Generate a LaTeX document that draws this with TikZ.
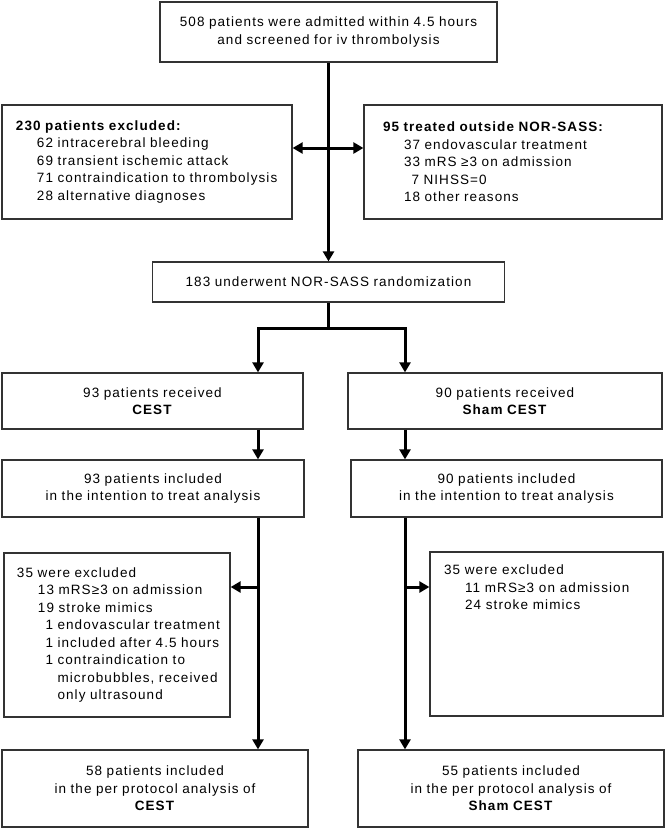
\documentclass[tikz,border=0pt]{standalone}
\usepackage{fontspec}
\setmainfont[LetterSpace=8]{Liberation Sans}
\usetikzlibrary{arrows.meta}

\newcommand{\ind}{\hspace*{21bp}}
\newcommand{\dg}{\hphantom{1}}

\tikzset{
  box/.style={draw=black!80, line width=1.3bp, inner ysep=0pt,
    font=\fontsize{13.5bp}{17.5bp}\selectfont},
  boxsize/.style 2 args={minimum width=#1, minimum height=#2},
  cbox/.style={box, align=center, inner xsep=0pt},
  lbox/.style={box, align=left, inner xsep=14bp},
  link/.style={line width=3bp},
  arr/.style={link, -{Triangle[length=10bp,width=11bp]}},
  dblarr/.style={link, {Triangle[length=10bp,width=11bp]}-{Triangle[length=10bp,width=11bp]}},
}

\begin{document}
\begin{tikzpicture}[x=1bp, y=-1bp]
  \useasboundingbox (0,0) rectangle (666,829);

  % screening
  \node[cbox, boxsize={337bp}{60bp}, text width=337bp] (top) at (328.5,32)
    {508 patients were admitted within 4.5 hours\\and screened for iv thrombolysis};
  \node[lbox, boxsize={290bp}{114bp}, text width=262bp] (exclL) at (147,162)
    {\textbf{230 patients excluded:}\\
     \ind 62 intracerebral bleeding\\
     \ind 69 transient ischemic attack\\
     \ind 71 contraindication to thrombolysis\\
     \ind 28 alternative diagnoses};
  \node[lbox, inner xsep=19bp, boxsize={298bp}{114bp}, text width=260bp] (exclR) at (513,162)
    {\textbf{95 treated outside NOR-SASS:}\\
     \ind 37 endovascular treatment\\
     \ind 33 mRS ≥3 on admission\\
     \ind\dg7 NIHSS=0\\
     \ind 18 other reasons};
  \node[cbox, boxsize={352bp}{40bp}, text width=352bp] (rand) at (328.5,282)
    {183 underwent NOR-SASS randomization};

  % two arms
  \node[cbox, boxsize={301bp}{56bp}, text width=301bp] (cestL) at (152.5,401)
    {93 patients received\\\textbf{CEST}};
  \node[cbox, boxsize={314bp}{56bp}, text width=314bp] (cestR) at (505,401)
    {90 patients received\\\textbf{Sham CEST}};
  \node[cbox, boxsize={302bp}{57bp}, text width=302bp] (ittL) at (153,488.5)
    {93 patients included\\in the intention to treat analysis};
  \node[cbox, boxsize={311bp}{57bp}, text width=311bp] (ittR) at (506.5,488.5)
    {90 patients included\\in the intention to treat analysis};
  \node[lbox, inner xsep=13bp, boxsize={226bp}{164bp}, text width=200bp] (ex2L) at (117,635)
    {35 were excluded\\
     \ind 13 mRS≥3 on admission\\
     \ind 19 stroke mimics\\
     \mbox{\ind\dg1 endovascular treatment}\\
     \mbox{\ind\dg1 included after 4.5 hours}\\
     \ind\dg1 contraindication to\\
     \mbox{\ind\dg\dg\ microbubbles, received}\\
     \ind\dg\dg\ only ultrasound};
  \node[box, inner xsep=14bp, boxsize={233bp}{164bp}] (ex2R) at (546.5,634)
    {\parbox[c][138bp][t]{205bp}{35 were excluded\\
     \ind 11 mRS≥3 on admission\\
     \ind 24 stroke mimics}};
  \node[cbox, boxsize={306bp}{77bp}, text width=306bp] (ppL) at (155,788.5)
    {58 patients included\\in the per protocol analysis of\\\textbf{CEST}};
  \node[cbox, boxsize={306bp}{77bp}, text width=306bp] (ppR) at (511,788.5)
    {55 patients included\\in the per protocol analysis of\\\textbf{Sham CEST}};

  % connectors
  \coordinate (cross) at (328.5,148);
  \coordinate (split) at (328.5,328);
  \coordinate (brL) at (258,328);
  \coordinate (brR) at (405,328);
  \coordinate (sideL) at (258,587);
  \coordinate (sideR) at (405,587);

  \draw[arr] (top) -- (rand);
  \draw[dblarr] (exclL.east |- cross) -- (exclR.west |- cross);
  \draw[link] (rand) -- (split);
  \draw[arr] (split) -| (brL |- cestL.north);
  \draw[arr] (split) -| (brR |- cestR.north);
  \draw[arr] (brL |- cestL.south) -- (brL |- ittL.north);
  \draw[arr] (brR |- cestR.south) -- (brR |- ittR.north);
  \draw[arr] (brL |- ittL.south) -- (brL |- ppL.north);
  \draw[arr] (brR |- ittR.south) -- (brR |- ppR.north);
  \draw[arr] (sideL) -- (sideL -| ex2L.east);
  \draw[arr] (sideR) -- (sideR -| ex2R.west);
\end{tikzpicture}
\end{document}
